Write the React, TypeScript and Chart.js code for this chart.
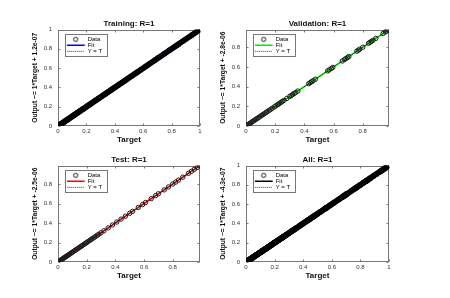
import React, { useEffect, useRef } from 'react';
import { Chart, registerables } from 'chart.js';

Chart.register(...registerables);

// ---- data ----
const tickValues = [0, 0.2, 0.4, 0.6, 0.8, 1];

const trainTarget = [
  0, 0.004, 0.009, 0.013, 0.018, 0.022, 0.027, 0.031, 0.036, 0.041, 0.045, 0.05, 0.056, 0.061, 0.066,
  0.071, 0.077, 0.082, 0.087, 0.093, 0.098, 0.104, 0.11, 0.115, 0.121, 0.127, 0.133, 0.138, 0.144,
  0.15, 0.156, 0.162, 0.168, 0.174, 0.18, 0.186, 0.193, 0.199, 0.205, 0.212, 0.218, 0.225, 0.231,
  0.238, 0.245, 0.251, 0.258, 0.265, 0.272, 0.279, 0.286, 0.293, 0.3, 0.308, 0.315, 0.322, 0.33,
  0.337, 0.345, 0.352, 0.36, 0.368, 0.376, 0.384, 0.392, 0.4, 0.409, 0.417, 0.426, 0.434, 0.443,
  0.452, 0.461, 0.47, 0.479, 0.488, 0.497, 0.507, 0.516, 0.526, 0.535, 0.545, 0.555, 0.565, 0.575,
  0.585, 0.596, 0.606, 0.617, 0.627, 0.638, 0.649, 0.66, 0.671, 0.682, 0.694, 0.705, 0.717, 0.728,
  0.74, 0.752, 0.764, 0.776, 0.788, 0.8, 0.813, 0.825, 0.838, 0.851, 0.864, 0.877, 0.89, 0.903,
  0.917, 0.93, 0.944, 0.958, 0.972, 0.986, 1,
];
// R = 1: every output sits on its target
const trainOutput = trainTarget.slice();

const valTarget = [
  0, 0.008, 0.015, 0.022, 0.03, 0.038, 0.045, 0.052, 0.06, 0.068, 0.075, 0.083, 0.09, 0.1, 0.108,
  0.115, 0.125, 0.135, 0.142, 0.15, 0.16, 0.17, 0.18, 0.195, 0.205, 0.215, 0.222, 0.23, 0.24, 0.25,
  0.26, 0.28, 0.3, 0.31, 0.32, 0.33, 0.34, 0.355, 0.43, 0.44, 0.45, 0.46, 0.475, 0.56, 0.57, 0.585,
  0.595, 0.66, 0.675, 0.685, 0.695, 0.705, 0.76, 0.77, 0.78, 0.8, 0.84, 0.85, 0.86, 0.87, 0.89,
  0.94, 0.955, 0.965, 0.975,
];
const valOutput = valTarget.slice();

const testTarget = [
  0, 0.007, 0.014, 0.02, 0.027, 0.034, 0.04, 0.047, 0.054, 0.06, 0.067, 0.074, 0.08, 0.088, 0.095,
  0.102, 0.11, 0.118, 0.125, 0.133, 0.14, 0.148, 0.156, 0.163, 0.17, 0.178, 0.186, 0.194, 0.2, 0.21,
  0.22, 0.228, 0.236, 0.245, 0.255, 0.265, 0.275, 0.285, 0.3, 0.32, 0.35, 0.38, 0.41, 0.44, 0.47,
  0.5, 0.52, 0.56, 0.59, 0.61, 0.65, 0.68, 0.7, 0.74, 0.77, 0.8, 0.82, 0.84, 0.87, 0.91, 0.93, 0.95,
  0.97, 0.99,
];
const testOutput = testTarget.slice();

const allTarget = [...trainTarget, ...valTarget, ...testTarget];
const allOutput = [...trainOutput, ...valOutput, ...testOutput];

const trainFitX = [0, 1];
const trainFitY = [0, 1];
const valFitX = [0, 0.975];
const valFitY = [0, 0.975];
const testFitX = [0, 0.99];
const testFitY = [0, 0.99];
const allFitX = [0, 1];
const allFitY = [0, 1];

const trainMax = 1;
const valMax = 0.98;
const testMax = 0.99;
const allMax = 1;

const titles = ['Training: R=1', 'Validation: R=1', 'Test: R=1', 'All: R=1'];
const yLabels = [
  'Output ~= 1*Target + 1.2e-07',
  'Output ~= 1*Target + -2.8e-06',
  'Output ~= 1*Target + -2.5e-06',
  'Output ~= 1*Target + -4.3e-07',
];

// ---- layout (not data) ----
const W = 450;
const H = 298;
const Y_AXIS_W = 30;
const X_AXIS_H = 23;
const TITLE_BLOCK = 10.6;
const YLABEL_SIZE = 6.7;
const FAMILY = '"Liberation Sans", Arial, Helvetica, sans-serif';

type Panel = {
  title: string;
  ylabel: string;
  target: number[];
  output: number[];
  fitX: number[];
  fitY: number[];
  max: number;
  color: string;
  area: [number, number, number, number];
  ylabelX: number;
  dense: boolean;
};

const panels: Panel[] = [
  { title: titles[0], ylabel: yLabels[0], target: trainTarget, output: trainOutput, fitX: trainFitX, fitY: trainFitY, max: trainMax, color: '#0000ff', area: [58, 29.5, 200, 126], ylabelX: 35, dense: true },
  { title: titles[1], ylabel: yLabels[1], target: valTarget, output: valOutput, fitX: valFitX, fitY: valFitY, max: valMax, color: '#00ee00', area: [246, 29.5, 389, 126], ylabelX: 223.5, dense: false },
  { title: titles[2], ylabel: yLabels[2], target: testTarget, output: testOutput, fitX: testFitX, fitY: testFitY, max: testMax, color: '#ff0000', area: [58, 165.5, 200, 262], ylabelX: 35, dense: false },
  { title: titles[3], ylabel: yLabels[3], target: allTarget, output: allOutput, fitX: allFitX, fitY: allFitY, max: allMax, color: '#000000', area: [246, 165.5, 389, 262], ylabelX: 223.5, dense: true },
];

function makeCircle(): HTMLCanvasElement {
  const c = document.createElement('canvas');
  c.width = 7;
  c.height = 7;
  const ctx = c.getContext('2d')!;
  ctx.strokeStyle = '#000';
  ctx.lineWidth = 0.9;
  ctx.beginPath();
  ctx.arc(3.5, 3.5, 2.1, 0, Math.PI * 2);
  ctx.stroke();
  return c;
}

const framePlugin = {
  id: 'matlabFrame',
  beforeDatasetsDraw(chart: any) {
    const { ctx, chartArea } = chart;
    const { left, top, right, bottom } = chartArea;
    ctx.save();
    ctx.strokeStyle = '#777';
    ctx.lineWidth = 1;
    const l = Math.round(left) + 0.5;
    const r = Math.round(right) - 0.5;
    const t = Math.round(top) + 0.5;
    const b = Math.round(bottom) - 0.5;
    ctx.strokeRect(l, t, r - l, b - t);
    ctx.beginPath();
    const xs = chart.scales.x;
    const ys = chart.scales.y;
    xs.ticks.forEach((tk: any) => {
      const px = Math.round(xs.getPixelForValue(tk.value)) + 0.5;
      ctx.moveTo(px, b);
      ctx.lineTo(px, b - 2);
      ctx.moveTo(px, t);
      ctx.lineTo(px, t + 2);
    });
    ys.ticks.forEach((tk: any) => {
      const py = Math.round(ys.getPixelForValue(tk.value)) + 0.5;
      ctx.moveTo(l, py);
      ctx.lineTo(l + 2, py);
      ctx.moveTo(r, py);
      ctx.lineTo(r - 2, py);
    });
    ctx.stroke();
    ctx.restore();
  },
};

const legendPlugin = {
  id: 'legendPlace',
  afterLayout(chart: any) {
    const lg = chart.legend;
    if (!lg) return;
    const { left, top, bottom } = chart.chartArea;
    lg.left = left + 8.7;
    lg.top = top + 6.8;
    lg.right = lg.left + lg.width;
    lg.bottom = bottom;
  },
  beforeDraw(chart: any) {
    const lg = chart.legend;
    if (!lg) return;
    const { ctx } = chart;
    ctx.save();
    const x = Math.round(lg.left - 1.7) + 0.5;
    const y = Math.round(lg.top - 2.5) + 0.5;
    ctx.fillStyle = '#fff';
    ctx.fillRect(x, y, 42, 22);
    ctx.strokeStyle = '#777';
    ctx.lineWidth = 1;
    ctx.strokeRect(x, y, 42, 22);
    ctx.restore();
  },
};

function buildConfig(p: Panel, circle: HTMLCanvasElement): any {
  const [L, T, R, B] = p.area;
  const tickFont = { size: 6, family: FAMILY };
  const ticksFor = (max: number) => tickValues.filter((v) => v <= max + 1e-9).map((v) => ({ value: v }));
  return {
    type: 'scatter',
    data: {
      datasets: [
        {
          label: 'Data',
          data: p.target.map((t, i) => ({ x: t, y: p.output[i] })),
          showLine: false,
          pointStyle: 'circle',
          pointRadius: p.dense ? 2.1 : 2.2,
          pointBorderWidth: p.dense ? 1.5 : 1,
          pointBorderColor: p.dense ? '#000' : '#1a1a1a',
          pointBackgroundColor: 'rgba(0,0,0,0)',
          order: 0,
        },
        {
          label: 'Fit',
          data: p.fitX.map((x, i) => ({ x, y: p.fitY[i] })),
          showLine: true,
          borderColor: p.color,
          borderWidth: 1.6,
          pointRadius: 0,
          order: 2,
        },
        {
          label: 'Y = T',
          data: [
            { x: 0, y: 0 },
            { x: p.max, y: p.max },
          ],
          showLine: true,
          borderColor: '#000',
          borderWidth: 0.8,
          borderDash: [1, 1],
          pointRadius: 0,
          order: 1,
        },
      ],
    },
    options: {
      animation: false,
      responsive: false,
      maintainAspectRatio: false,
      events: [],
      layout: {
        padding: { left: L - Y_AXIS_W, right: W - R, top: T - TITLE_BLOCK, bottom: H - B - X_AXIS_H },
      },
      scales: {
        x: {
          type: 'linear',
          min: 0,
          max: p.max,
          afterBuildTicks: (s: any) => {
            s.ticks = ticksFor(p.max);
          },
          afterFit: (s: any) => {
            s.height = X_AXIS_H;
            s.paddingLeft = 0;
            s.paddingRight = 0;
          },
          grid: { display: false, drawTicks: false, tickLength: 0 },
          border: { display: false },
          ticks: { padding: 2, font: tickFont, color: '#333', maxRotation: 0, autoSkip: false, callback: (v: any) => String(v) },
          title: { display: true, text: 'Target', color: '#111', font: { size: 8, weight: 'bold', family: FAMILY }, padding: { top: 0, bottom: 4 } },
        },
        y: {
          type: 'linear',
          min: 0,
          max: p.max,
          afterBuildTicks: (s: any) => {
            s.ticks = ticksFor(p.max);
          },
          afterFit: (s: any) => {
            s.width = Y_AXIS_W;
            s.paddingTop = 0;
            s.paddingBottom = 0;
          },
          grid: { display: false, drawTicks: false, tickLength: 0 },
          border: { display: false },
          ticks: { padding: 6, font: tickFont, color: '#333', autoSkip: false, callback: (v: any) => String(v) },
          title: {
            display: true,
            text: p.ylabel,
            color: '#111',
            font: { size: YLABEL_SIZE, weight: 'bold', family: FAMILY },
            padding: { top: p.ylabelX - (L - Y_AXIS_W) - (YLABEL_SIZE * 1.2) / 2, bottom: 0 },
          },
        },
      },
      plugins: {
        tooltip: { enabled: false },
        title: {
          display: true,
          text: p.title,
          fullSize: false,
          color: '#111',
          font: { size: 8, weight: 'bold', family: FAMILY },
          padding: { top: 0, bottom: 1 },
        },
        legend: {
          display: true,
          position: 'chartArea',
          align: 'start',
          labels: {
            usePointStyle: true,
            pointStyleWidth: 18,
            boxHeight: 6,
            padding: 0,
            color: '#111',
            font: { size: 6, family: FAMILY },
            generateLabels: () => [
              { text: 'Data', pointStyle: circle, fillStyle: 'rgba(0,0,0,0)', strokeStyle: '#000', lineWidth: 1, hidden: false, datasetIndex: 0 },
              { text: 'Fit', pointStyle: 'line', fillStyle: 'rgba(0,0,0,0)', strokeStyle: p.color, lineWidth: 1.6, hidden: false, datasetIndex: 1 },
              { text: 'Y = T', pointStyle: 'line', fillStyle: 'rgba(0,0,0,0)', strokeStyle: '#000', lineWidth: 0.8, lineDash: [1, 1], hidden: false, datasetIndex: 2 },
            ],
          },
        },
      },
    },
    plugins: [framePlugin, legendPlugin],
  };
}

export default function App() {
  const refs = useRef<(HTMLCanvasElement | null)[]>([]);

  useEffect(() => {
    const circle = makeCircle();
    const charts = panels.map((p, i) => new Chart(refs.current[i] as HTMLCanvasElement, buildConfig(p, circle)));
    return () => charts.forEach((c) => c.destroy());
  }, []);

  return (
    <div style={{ position: 'absolute', left: 0, top: 0, width: W, height: H, background: '#fff', overflow: 'hidden' }}>
      {panels.map((p, i) => (
        <canvas
          key={i}
          ref={(el) => {
            refs.current[i] = el;
          }}
          width={W}
          height={H}
          style={{ position: 'absolute', left: 0, top: 0, width: W, height: H }}
        />
      ))}
    </div>
  );
}
